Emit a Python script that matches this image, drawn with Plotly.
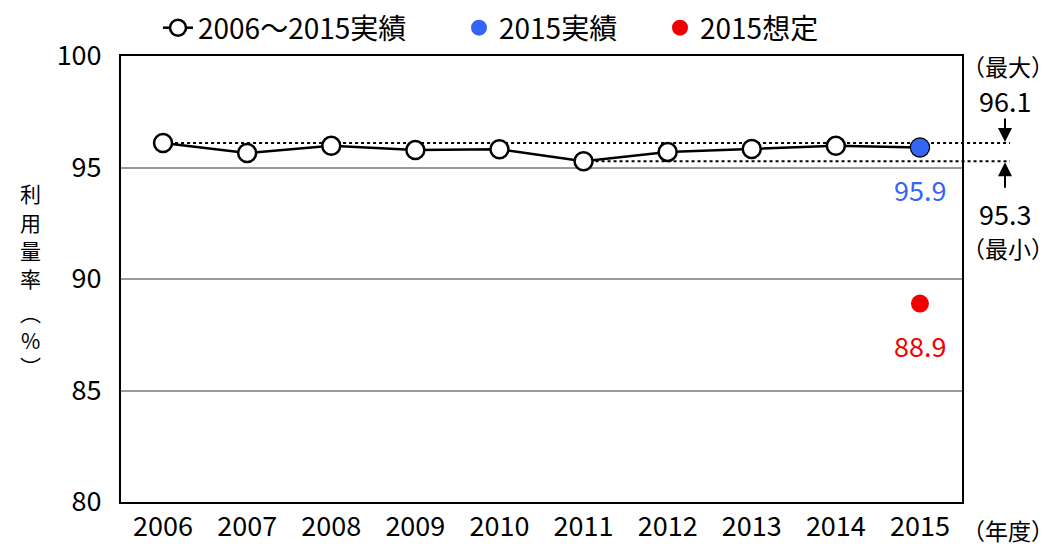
import plotly.graph_objects as go

years = ["2006", "2007", "2008", "2009", "2010", "2011", "2012", "2013", "2014", "2015"]
actual = [96.1, 95.65, 95.97, 95.78, 95.82, 95.28, 95.7, 95.83, 95.97, 95.9]
actual_2015 = [95.9]
assumed_2015 = [88.9]
yticks = [80, 85, 90, 95, 100]
ytitle_chars = ["利", "用", "量", "率", "︵", "%", "︶"]

FONT = "Noto Sans CJK JP"
BLUE = "#3366F5"
RED = "#F00000"

L, R, T, B = 121, 91, 56, 45
W, H = 1053, 547
pw, ph = W - L - R, H - T - B

def px_x(p):
    return (p - L) / pw

def px_y(p):
    return (H - B - p) / ph

idx = list(range(len(years)))
i2015 = years.index("2015")

fig = go.Figure()
fig.add_trace(go.Scatter(
    x=idx, y=actual, mode="lines+markers", name="2006～2015実績", legend="legend",
    line=dict(color="black", width=2.5),
    marker=dict(symbol="circle", size=18, color="white", line=dict(color="black", width=2.5)),
))
fig.add_trace(go.Scatter(
    x=[i2015], y=actual_2015, mode="markers", name="2015実績", legend="legend2",
    marker=dict(size=18, color=BLUE),
))
fig.add_trace(go.Scatter(
    x=[i2015], y=assumed_2015, mode="markers", name="2015想定", legend="legend3",
    marker=dict(size=18, color=RED),
))

n = len(years)
vmax, vmin = max(actual), min(actual)
imax, imin = actual.index(vmax), actual.index(vmin)
xend = 1.057
for v, i in [(vmax, imax), (vmin, imin)]:
    fig.add_shape(type="line", xref="paper", yref="y",
                  x0=(i + 0.5) / n, x1=xend, y0=v, y1=v,
                  line=dict(color="black", width=2, dash="dot"), layer="below")

ann = []
ann.append(dict(x=i2015, y=actual_2015[0], xref="x", yref="y", text=f"{actual_2015[0]:.1f}",
                showarrow=False, yshift=-42, font=dict(color=BLUE, size=27)))
ann.append(dict(x=i2015, y=assumed_2015[0], xref="x", yref="y", text=f"{assumed_2015[0]:.1f}",
                showarrow=False, yshift=-42, font=dict(color=RED, size=27)))
xa = px_x(1005)
xt = px_x(1008)
ann.append(dict(x=xt, y=vmax, xref="paper", yref="y", text="（最大）", xanchor="center",
                showarrow=False, yshift=77, font=dict(size=23)))
ann.append(dict(x=xa, y=vmax, xref="paper", yref="y", text=f"{vmax:.1f}", xanchor="center",
                showarrow=False, yshift=42, font=dict(size=27)))
ann.append(dict(x=xa, y=vmax, xref="paper", yref="y", text="", showarrow=True,
                ax=0, ay=-26, arrowhead=2, arrowsize=1.4, arrowwidth=2, arrowcolor="black", standoff=1))
ann.append(dict(x=xa, y=vmin, xref="paper", yref="y", text="", showarrow=True,
                ax=0, ay=28, arrowhead=2, arrowsize=1.4, arrowwidth=2, arrowcolor="black", standoff=1))
ann.append(dict(x=xa, y=vmin, xref="paper", yref="y", text=f"{vmin:.1f}", xanchor="center",
                showarrow=False, yshift=-52, font=dict(size=27)))
ann.append(dict(x=xt, y=vmin, xref="paper", yref="y", text="（最小）", xanchor="center",
                showarrow=False, yshift=-87, font=dict(size=23)))
ann.append(dict(x=xt, y=px_y(530), xref="paper", yref="paper", text="（年度）",
                xanchor="center", yanchor="middle", showarrow=False, font=dict(size=23)))
# vertical y-axis title, one character per row
ypix = [193, 222, 250, 278, 312, 340, 366]
for ch, yp in zip(ytitle_chars, ypix):
    ann.append(dict(x=px_x(30), y=px_y(yp), xref="paper", yref="paper", text=ch,
                    showarrow=False, xanchor="center", yanchor="middle",
                    font=dict(size=21)))

leg_common = dict(orientation="h", yanchor="middle", y=px_y(28), xanchor="left",
                  font=dict(size=28), bgcolor="rgba(0,0,0,0)")

fig.update_layout(
    width=W, height=H,
    margin=dict(l=L, r=R, t=T, b=B, autoexpand=False),
    paper_bgcolor="white", plot_bgcolor="white",
    font=dict(family=FONT, size=27, color="black"),
    showlegend=True,
    legend=dict(x=px_x(158), **leg_common),
    legend2=dict(x=px_x(459), **leg_common),
    legend3=dict(x=px_x(660), **leg_common),
    annotations=ann,
    xaxis=dict(range=[-0.5, n - 0.5], tickmode="array", tickvals=idx, ticktext=years,
               showgrid=False, zeroline=False, showline=True, linecolor="black", linewidth=2,
               mirror=True, ticks="", tickfont=dict(size=27), automargin=False),
    yaxis=dict(range=[80, 100], tickmode="array", tickvals=yticks,
               ticktext=[str(t) for t in yticks],
               showgrid=True, gridcolor="#999999", gridwidth=2, zeroline=False,
               showline=True, linecolor="black", linewidth=2, mirror=True, ticks="",
               tickfont=dict(size=27), ticklabelstandoff=12, automargin=False),
)

fig.write_html("out.html", config={"displayModeBar": False},
               post_script="document.body.style.margin='0';")
